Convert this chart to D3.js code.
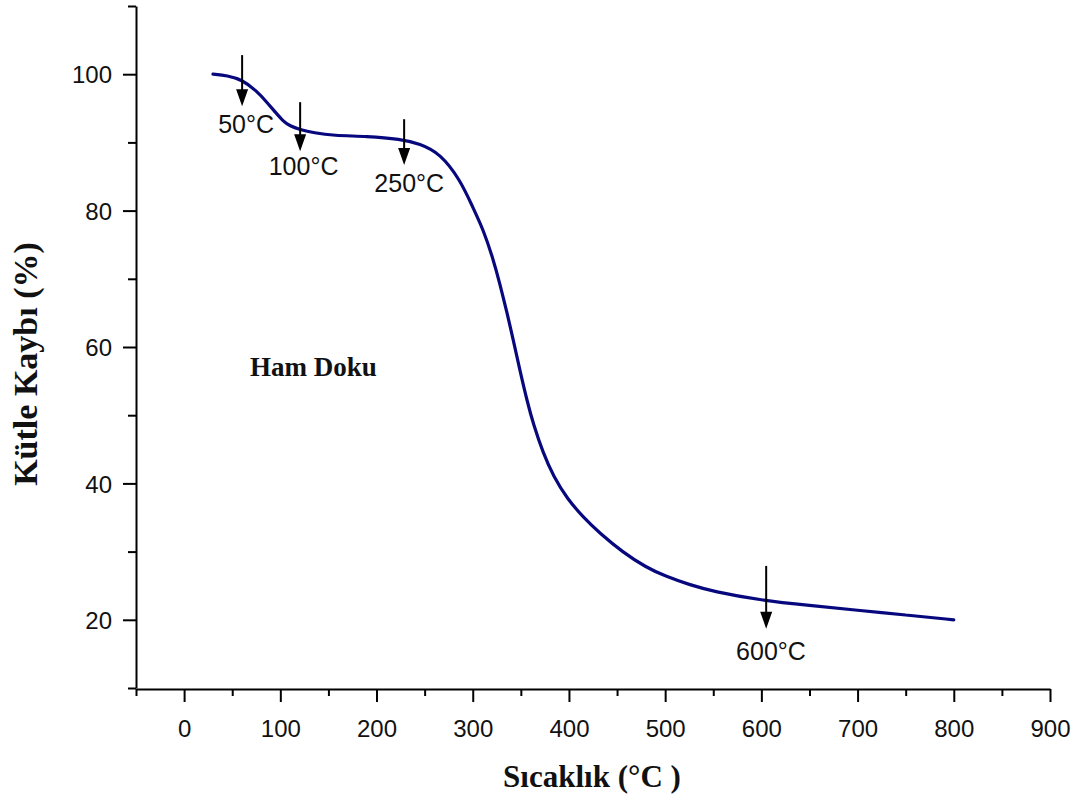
<!DOCTYPE html>
<html>
<head>
<meta charset="utf-8">
<script src="https://cdn.jsdelivr.net/npm/d3@7"></script>
<style>
  html, body { margin: 0; padding: 0; background: #fff; }
  svg { display: block; }
</style>
</head>
<body>
<svg id="chart" width="1086" height="801"></svg>
<script>
// ---- Data ----
const temperature = [30, 45, 60, 75, 86, 95, 103, 110, 120, 135, 155, 190, 225, 245, 266, 287, 300, 311, 321, 328, 336, 342, 349, 357, 363, 373, 384, 398, 415, 432, 456, 480, 500, 525, 550, 600, 650, 700, 750, 800];
const massLoss    = [100, 99.8, 99.2, 97.6, 95.9, 94.4, 93.1, 92.4, 91.9, 91.4, 91.0, 90.9, 90.5, 89.8, 88.4, 84.5, 80.5, 77.2, 73.0, 69.4, 64.8, 61.1, 56.6, 51.8, 48.7, 44.5, 41.0, 37.8, 35.0, 32.7, 29.9, 27.7, 26.4, 25.15, 24.15, 22.85, 22.1, 21.4, 20.7, 20.0];

const xMajorTicks = [0, 100, 200, 300, 400, 500, 600, 700, 800, 900];
const xMinorTicks = [-50, 50, 150, 250, 350, 450, 550, 650, 750, 850];
const yMajorTicks = [20, 40, 60, 80, 100];
const yMinorTicks = [10, 30, 50, 70, 90, 110];

// annotation arrows
const arrowLabels = ["50°C", "100°C", "250°C", "600°C"];
const arrowT      = [60.3, 120.6, 228.7, 605];
const arrowTop    = [102.8, 95.9, 93.4, 27.9];
const arrowTip    = [95.3, 88.7, 86.7, 18.7];
const labelT      = [64.4, 124.2, 234, 610];
const labelY      = [91.4, 85.2, 82.7, 14.1];

const sampleName = "Ham Doku";
const xTitle = "Sıcaklık (°C )";
const yTitle = "Kütle Kaybı (%)";

// ---- Layout ----
const svg = d3.select("#chart");
const x = d3.scaleLinear().domain([-50, 900]).range([136, 1050]);
const y = d3.scaleLinear().domain([10, 110]).range([688, 6]);
const axisY0 = 689;

const tickFont = "Liberation Sans, Arial, sans-serif";
const serif = "Liberation Serif, Times New Roman, serif";

// X axis
svg.append("g").attr("transform", `translate(0,${axisY0})`)
  .call(d3.axisBottom(x).tickValues(xMinorTicks).tickSize(7).tickSizeOuter(0).tickFormat(""));
const gxMajor = svg.append("g").attr("transform", `translate(0,${axisY0})`)
  .call(d3.axisBottom(x).tickValues(xMajorTicks).tickSize(13).tickSizeOuter(0).tickPadding(18));
gxMajor.select(".domain").remove();

// Y axis
svg.append("g").attr("transform", `translate(${x(-50)},0)`)
  .call(d3.axisLeft(y).tickValues(yMinorTicks).tickSize(8).tickSizeOuter(0).tickFormat(""));
const gyMajor = svg.append("g").attr("transform", `translate(${x(-50)},0)`)
  .call(d3.axisLeft(y).tickValues(yMajorTicks).tickSize(13).tickSizeOuter(0).tickPadding(11));
gyMajor.select(".domain").remove();

svg.selectAll(".domain").attr("stroke", "#000").attr("stroke-width", 2);
svg.selectAll(".tick line").attr("stroke", "#000").attr("stroke-width", 2);
svg.selectAll(".tick text").attr("fill", "#111").style("font-family", tickFont).style("font-size", "24px");
gxMajor.selectAll(".tick text").attr("dy", "0.71em");
gyMajor.selectAll(".tick text").attr("dy", "0.36em");

// Curve
const pts = temperature.map((t, i) => [t, massLoss[i]]);
const line = d3.line().x(d => x(d[0])).y(d => y(d[1])).curve(d3.curveBasis);
svg.append("path").datum(pts)
  .attr("d", line)
  .attr("fill", "none")
  .attr("stroke", "#08087e")
  .attr("stroke-width", 3.2)
  .attr("stroke-linejoin", "round")
  .attr("stroke-linecap", "round");

// Arrows
const headLen = 17, headHalf = 6;
arrowLabels.forEach((lab, i) => {
  const ax = x(arrowT[i]), y1 = y(arrowTop[i]), y2 = y(arrowTip[i]);
  svg.append("line").attr("x1", ax).attr("x2", ax).attr("y1", y1).attr("y2", y2 - headLen + 2)
    .attr("stroke", "#000").attr("stroke-width", 2);
  svg.append("path")
    .attr("d", `M${ax - headHalf},${y2 - headLen} L${ax + headHalf},${y2 - headLen} L${ax},${y2} Z`)
    .attr("fill", "#000");
  svg.append("text").attr("x", x(labelT[i])).attr("y", y(labelY[i]))
    .attr("text-anchor", "middle")
    .style("font-family", tickFont).style("font-size", "25px").attr("fill", "#111")
    .text(lab);
});

// Sample label
svg.append("text").attr("x", 250).attr("y", 376)
  .style("font-family", serif).style("font-weight", "bold").style("font-size", "27px")
  .attr("fill", "#111").text(sampleName);

// Axis titles
svg.append("text").attr("x", 592).attr("y", 787).attr("text-anchor", "middle")
  .style("font-family", serif).style("font-weight", "bold").style("font-size", "31px")
  .attr("fill", "#111").text(xTitle);
svg.append("text").attr("transform", "translate(37,364) rotate(-90)").attr("text-anchor", "middle")
  .style("font-family", serif).style("font-weight", "bold").style("font-size", "34px")
  .attr("fill", "#111").text(yTitle);
</script>
</body>
</html>
